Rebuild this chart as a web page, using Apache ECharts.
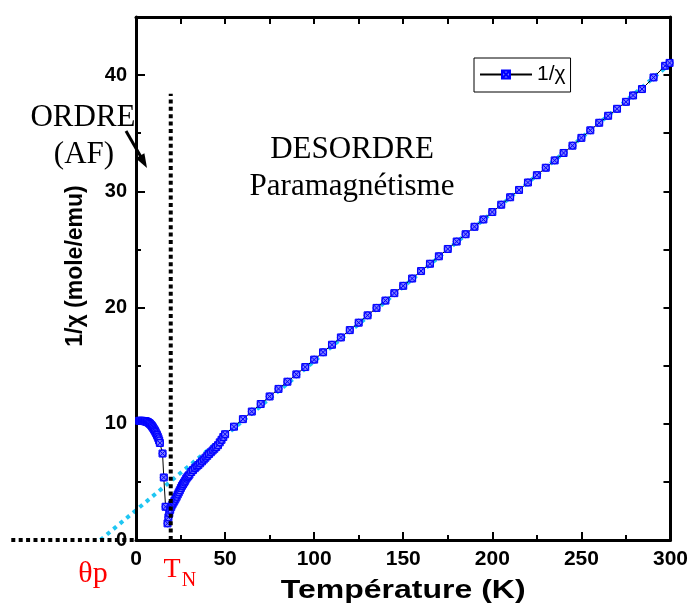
<!DOCTYPE html>
<html>
<head>
<meta charset="utf-8">
<script src="https://cdn.jsdelivr.net/npm/echarts@6/dist/echarts.min.js"></script>
<style>html,body{margin:0;padding:0;background:#fff}#c{width:691px;height:608px}</style>
</head>
<body>
<div id="c"></div>
<script>
// ---- data ----
var tLow = [1.8,2.2,2.6,3.0,3.4,3.8,4.2,4.6,5.0,5.4,5.8,6.2,6.6,7.0,7.4,7.8,8.2,8.6,9.0,9.4,9.8,10.2,10.6,11.0,11.4,11.8,12.2,12.6,13.0,13.4,14.9,15.6,16.6,17.7];
var vLow = [10.25,10.25,10.25,10.25,10.25,10.24,10.24,10.23,10.22,10.21,10.19,10.17,10.14,10.10,10.06,10.00,9.94,9.87,9.79,9.70,9.60,9.50,9.40,9.28,9.16,9.03,8.89,8.74,8.56,8.35,7.44,5.38,2.86,1.43];
var tMid = [18.2,18.7,19.2,19.8,20.4,21.0,21.6,22.2,22.8,23.4,24.0,24.6,25.2,25.8,26.4,27.0,27.6,28.2,28.8,29.4,30,31,32,33,34,35,36,37,38,39,40,41,42,43,44,45,46,47,48,49];
var vMid = [1.95,2.3,2.6,2.85,3.05,3.22,3.38,3.55,3.72,3.92,4.1,4.28,4.48,4.66,4.8,4.95,5.1,5.28,5.4,5.52,5.63,5.85,6.02,6.18,6.32,6.45,6.6,6.76,6.92,7.08,7.24,7.40,7.55,7.70,7.85,8.0,8.16,8.4,8.62,8.86];
var tPara = [50,55,60,65,70,75,80,85,90,95,100,105,110,115,120,125,130,135,140,145,150,155,160,165,170,175,180,185,190,195,200,205,210,215,220,225,230,235,240,245,250,255,260,265,270,275,279,284,290.5,297,299.5];
var vPara = [9.10,9.75,10.40,11.05,11.70,12.35,13.00,13.62,14.25,14.88,15.52,16.15,16.80,17.43,18.06,18.70,19.33,19.97,20.60,21.24,21.87,22.50,23.14,23.77,24.41,25.04,25.68,26.31,26.95,27.58,28.22,28.85,29.49,30.12,30.76,31.39,32.03,32.66,33.30,33.93,34.60,35.25,35.90,36.50,37.10,37.70,38.25,38.80,39.80,40.80,41.05];
// Curie-Weiss fit line (theta_p ~ -20 K)
var fitT = [-20, 300];
var fitV = [0, 41.0];
// T_N vertical marker and zero reference line
var tnT = [19.5, 19.5];
var tnV = [0, 38.4];
var zeroT = [-70, 0];
var zeroV = [0, 0];
var xTicks = [0, 50, 100, 150, 200, 250, 300];
var yTicks = [0, 10, 20, 30, 40];

function pairs(xs, ys) { return xs.map(function (x, i) { return [x, ys[i]]; }); }
var mainData = pairs(tLow, vLow).concat(pairs(tMid, vMid)).concat(pairs(tPara, vPara));

var SANS = '"Liberation Sans", Arial, sans-serif';
var SERIF = '"Liberation Serif", "Times New Roman", serif';
var symbolPath = 'path://M0,0H10V10H0Z M10,5A5,5,0,1,1,0,5A5,5,0,1,1,10,5Z M1.6,1.6L8.4,8.4 M8.4,1.6L1.6,8.4';

var chart = echarts.init(document.getElementById('c'), null, {renderer: 'canvas'});
var axisLineStyle = {color: '#000', width: 3};
var option = {
  animation: false,
  backgroundColor: '#fff',
  grid: {left: 136, right: 19, top: 17, bottom: 68, containLabel: false},
  legend: {
    data: ['1/χ'],
    left: 474, top: 58,
    padding: [6, 5, 7, 5],
    borderColor: '#000', borderWidth: 1, borderRadius: 0,
    itemWidth: 52, itemHeight: 10,
    textStyle: {fontFamily: SANS, fontSize: 21, color: '#000'}
  },
  xAxis: [{
    type: 'value', position: 'bottom', min: 0, max: 300, interval: 50,
    axisLine: {show: true, onZero: false, lineStyle: axisLineStyle},
    axisTick: {show: true, inside: true, length: 8, lineStyle: {color: '#000', width: 2}},
    minorTick: {show: true, splitNumber: 2, length: 5, lineStyle: {color: '#000', width: 2}},
    splitLine: {show: false}, minorSplitLine: {show: false},
    axisLabel: {margin: 9, fontFamily: SANS, fontWeight: 'bold', fontSize: 21, color: '#000',
      formatter: function (v) { return xTicks.indexOf(v) >= 0 ? String(v) : ''; }}
  }, {
    type: 'value', position: 'top', min: 0, max: 300, interval: 25,
    axisLine: {show: true, onZero: false, lineStyle: axisLineStyle},
    axisTick: {show: true, inside: true, length: 7, lineStyle: {color: '#000', width: 2}},
    axisLabel: {show: false}, splitLine: {show: false}
  }],
  yAxis: [{
    type: 'value', position: 'left', min: 0, max: 45, interval: 5,
    axisLine: {show: true, onZero: false, lineStyle: axisLineStyle},
    axisTick: {show: true, inside: true, length: 5, lineStyle: {color: '#000', width: 2}},
    splitLine: {show: false},
    axisLabel: {margin: 9, fontFamily: SANS, fontWeight: 'bold', fontSize: 20, color: '#000',
      formatter: function (v) { return yTicks.indexOf(v) >= 0 ? String(v) : ''; }}
  }, {
    type: 'value', position: 'right', min: 0, max: 45, interval: 5,
    axisLine: {show: true, onZero: false, lineStyle: axisLineStyle},
    axisTick: {show: true, inside: true, length: 7, lineStyle: {color: '#000', width: 2}},
    axisLabel: {show: false}, splitLine: {show: false}
  }, {
    type: 'value', position: 'left', min: 0, max: 45, interval: 10,
    axisLine: {show: false},
    axisTick: {show: true, inside: true, length: 9, lineStyle: {color: '#000', width: 2}},
    axisLabel: {show: false}, splitLine: {show: false}
  }],
  series: [{
    name: 'TN', type: 'line', xAxisIndex: 0, yAxisIndex: 0, silent: true,
    data: pairs(tnT, tnV), symbol: 'none', z: 3,
    lineStyle: {color: '#000', width: 4, type: [4, 3.4], cap: 'butt'}
  }, {
    name: '1/χ', type: 'line', xAxisIndex: 0, yAxisIndex: 0, clip: false,
    data: mainData, symbol: symbolPath, symbolSize: 7, showAllSymbol: true, z: 2,
    lineStyle: {color: '#000', width: 1},
    itemStyle: {color: '#7c7cff', borderColor: '#0000ff', borderWidth: 1}
  }]
};
chart.setOption(option);

// Lines that extend beyond the plot frame: positioned through the chart's own scales.
function toPx(xs, ys) {
  return xs.map(function (x, i) { return chart.convertToPixel({gridIndex: 0}, [x, ys[i]]); });
}
var fitPts = toPx(fitT, fitV);
var zeroPts = toPx(zeroT, zeroV);
var gridRect = chart.getModel().getComponent('grid', 0).coordinateSystem.getRect();
var xMid = gridRect.x + gridRect.width / 2;

chart.setOption({
  graphic: [
    {type: 'polyline', z: 0, shape: {points: fitPts}, style: {stroke: '#1fc6f2', lineWidth: 4, lineDash: [4, 4.5], fill: null}},
    {type: 'polyline', z: 0, shape: {points: zeroPts}, style: {stroke: '#000', lineWidth: 4, lineDash: [4, 3.4], fill: null}},
    {type: 'text', x: xMid, y: 591, scaleX: 1.28, style: {text: 'Température (K)', font: 'bold 25px ' + SANS, fill: '#000', align: 'center', verticalAlign: 'middle'}},
    {type: 'text', x: 76, y: 266, rotation: Math.PI / 2, style: {text: '1/χ (mole/emu)', font: 'bold 23px ' + SANS, fill: '#000', align: 'center', verticalAlign: 'middle'}},
    {type: 'text', x: 83, y: 118, style: {text: 'ORDRE', font: '31px ' + SERIF, fill: '#000', align: 'center', verticalAlign: 'middle'}},
    {type: 'text', x: 84, y: 155, style: {text: '(AF)', font: '31px ' + SERIF, fill: '#000', align: 'center', verticalAlign: 'middle'}},
    {type: 'text', x: 352, y: 150, style: {text: 'DESORDRE', font: '31px ' + SERIF, fill: '#000', align: 'center', verticalAlign: 'middle'}},
    {type: 'text', x: 352, y: 187, style: {text: 'Paramagnétisme', font: '31px ' + SERIF, fill: '#000', align: 'center', verticalAlign: 'middle'}},
    {type: 'text', x: 93, y: 574, style: {text: 'θp', font: '30px ' + SERIF, fill: '#ff0000', align: 'center', verticalAlign: 'middle'}},
    {type: 'text', x: 172, y: 570, style: {text: 'T', font: '28px ' + SERIF, fill: '#ff0000', align: 'center', verticalAlign: 'middle'}},
    {type: 'text', x: 189, y: 581, style: {text: 'N', font: '20px ' + SERIF, fill: '#ff0000', align: 'center', verticalAlign: 'middle'}},
    {type: 'line', shape: {x1: 126, y1: 131, x2: 141, y2: 157}, style: {stroke: '#000', lineWidth: 3}},
    {type: 'polygon', shape: {points: [[147, 168], [135.7, 158.3], [144.4, 153.3]]}, style: {fill: '#000'}}
  ]
});
</script>
</body>
</html>
